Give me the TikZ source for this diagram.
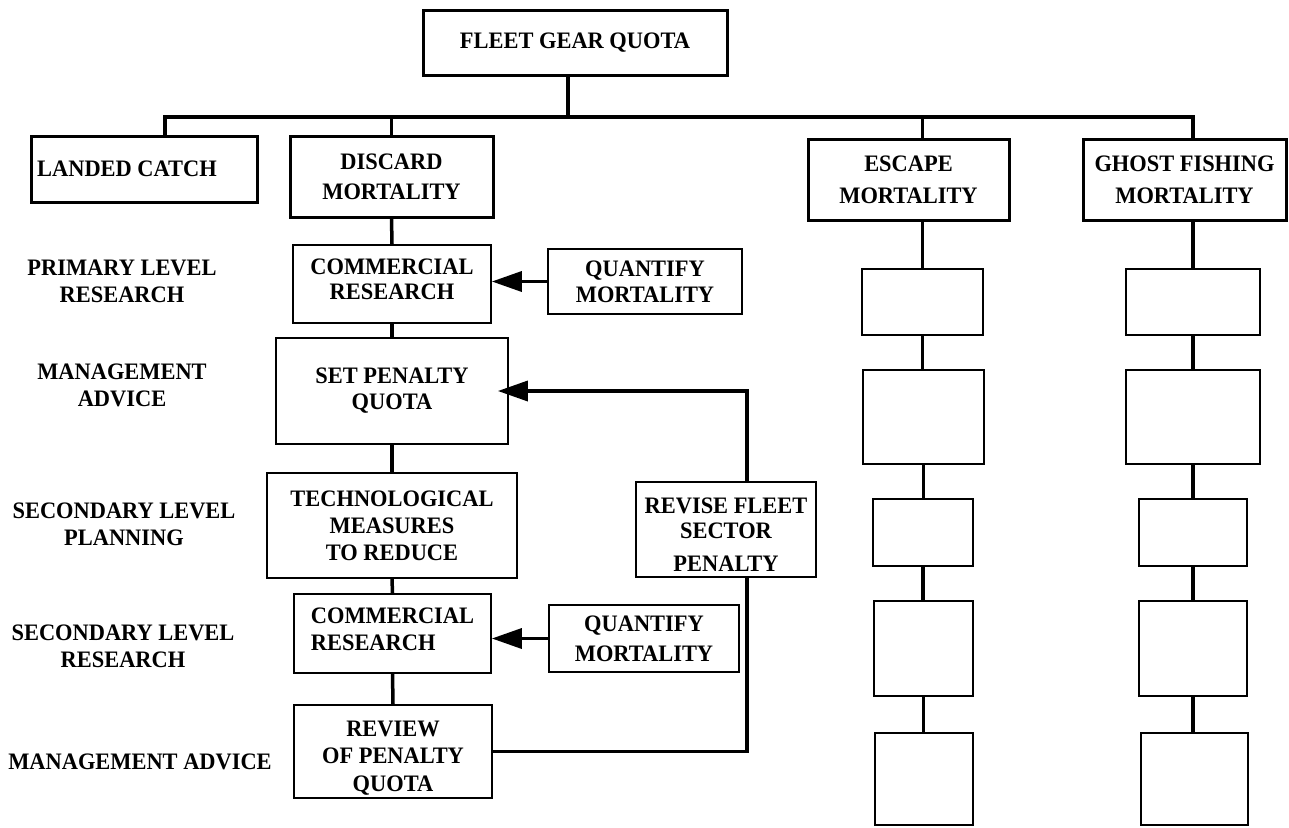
\documentclass[tikz,border=0pt]{standalone}
\usepackage{fontspec}
\setmainfont{Liberation Serif}[FakeStretch=0.95]
\usetikzlibrary{arrows.meta,calc}
\begin{document}
\begin{tikzpicture}[x=1pt,y=-1pt,
  txt/.style={font=\fontsize{23.6}{27}\selectfont\bfseries, align=center, inner sep=0pt},
  bx/.style={txt, draw, line width=1.7pt},
  tbx/.style={txt, draw, line width=3pt},
  sz/.style 2 args={minimum width=#1pt, minimum height=#2pt},
  conn/.style={line width=3.5pt},
  arr/.style={conn, -{Triangle[length=30pt,width=20pt]}},
]
\fill[white] (0,0) rectangle (1289,827);
\useasboundingbox (0,0) rectangle (1289,827);

% header boxes
\node[tbx, sz={304}{65}] (top) at (575,42.5) {FLEET GEAR QUOTA};
\node[tbx, sz={226}{66}] (landed) at (144,169) {LANDED CATCH\hspace*{34pt}};
\node[tbx, sz={203}{81}] (discard) at (391.5,176.5) {DISCARD\\[3pt]MORTALITY};
\node[tbx, sz={201}{81}] (escape) at (908.5,179.5) {ESCAPE\\[5pt]MORTALITY};
\node[tbx, sz={203}{81}] (ghost) at (1184.5,179.5) {GHOST FISHING\\[5pt]MORTALITY};

% discard chain
\node[bx, sz={198}{78}] (com1) at (392,284) {COMMERCIAL\\[-2pt]RESEARCH\rule[-9pt]{0pt}{0pt}};
\node[bx, sz={194}{65}] (quant1) at (645,281.5) {QUANTIFY\\[-1pt]MORTALITY};
\node[bx, sz={232}{106}] (spq) at (392,391) {SET PENALTY\\[-1pt]QUOTA};
\node[bx, sz={250}{105}] (tech) at (392,525.5) {TECHNOLOGICAL\\MEASURES\\TO REDUCE};
\node[bx, sz={197}{79}, align=left] (com2) at (392.5,633.5) {COMMERCIAL\\RESEARCH\rule[-9pt]{0pt}{0pt}};
\node[bx, sz={190}{67}] (quant2) at (644,638.5) {QUANTIFY\\[3pt]MORTALITY};
\node[bx, sz={198}{93}] (review) at (393,751.5) {\rule{0pt}{28pt}REVIEW\\[0pt]OF PENALTY\\[1pt]QUOTA};
\node[bx, sz={180}{95}] (revise) at (726,529.5) {\rule{0pt}{26pt}REVISE FLEET\\[-2pt]SECTOR\\[6pt]PENALTY};

% escape column
\node[bx, sz={121}{66}] (e1) at (922.5,302) {};
\node[bx, sz={121}{94}] (e2) at (923.5,417) {};
\node[bx, sz={100}{67}] (e3) at (923,532.5) {};
\node[bx, sz={99}{95}] (e4) at (923.5,648.5) {};
\node[bx, sz={98}{92}] (e5) at (924,779) {};

% ghost column
\node[bx, sz={134}{66}] (g1) at (1193,302) {};
\node[bx, sz={134}{94}] (g2) at (1193,417) {};
\node[bx, sz={108}{67}] (g3) at (1193,532.5) {};
\node[bx, sz={108}{95}] (g4) at (1193,648.5) {};
\node[bx, sz={107}{92}] (g5) at (1194.5,779) {};

% row labels
\node[txt] (l1) at (122,281.5) {PRIMARY LEVEL\\RESEARCH};
\node[txt] (l2) at (122,385) {MANAGEMENT\\ADVICE};
\node[txt] (l3) at (124,524.5) {SECONDARY LEVEL\\PLANNING};
\node[txt] (l4) at (123,646) {SECONDARY LEVEL\\RESEARCH};
\node[txt] (l5) at (140,762) {MANAGEMENT ADVICE};

% bus
\coordinate (bus) at (568,117);
\draw[conn] (bus |- top.south) -- (bus);
\draw[conn] ([xshift=21pt]landed.north) |- (bus) -| (g1.north |- ghost.north);
\draw[conn] (discard.north |- bus) -- (discard.north);
\draw[conn] (e1.north |- bus) -- (e1.north |- escape.north);

% discard chain links
\draw[conn] (discard.south) -- (com1.north);
\draw[conn] (com1.south) -- (spq.north);
\draw[conn] (spq.south) -- (tech.north);
\draw[conn] (tech.south) -- (com2.north);
\draw[conn] (com2.south) -- (review.north);
\draw[arr] (quant1.west) -- (quant1.west -| com1.east);
\draw[arr] (quant2.west) -- (quant2.west -| com2.east);
\draw[conn] (review.east) -| ([xshift=21pt]revise.south);
\draw[arr] ([xshift=21pt]revise.north) |- ([xshift=-11pt]spq.east);

% escape chain
\draw[conn] (e1.north |- escape.south) -- (e1.north);
\draw[conn] (e1.south) -- (e1.south |- e2.north);
\draw[conn] (e2.south) -- (e2.south |- e3.north);
\draw[conn] (e3.south) -- (e3.south |- e4.north);
\draw[conn] (e4.south) -- (e4.south |- e5.north);

% ghost chain
\draw[conn] (g1.north |- ghost.south) -- (g1.north);
\draw[conn] (g1.south) -- (g2.north);
\draw[conn] (g2.south) -- (g3.north);
\draw[conn] (g3.south) -- (g4.north);
\draw[conn] (g4.south) -- (g4.south |- g5.north);
\end{tikzpicture}
\end{document}
